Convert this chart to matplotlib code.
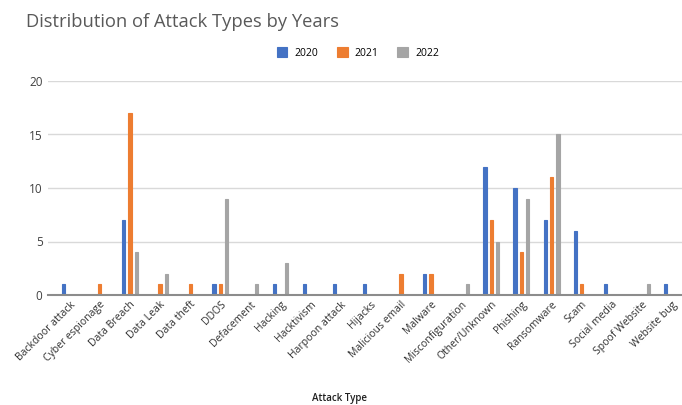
import numpy as np
import matplotlib
matplotlib.use('Agg')
from matplotlib import pyplot as plt

attack_types = ['Backdoor attack', 'Cyber espionage', 'Data Breach', 'Data Leak',
                'Data theft', 'DDOS', 'Defacement', 'Hacking', 'Hacktivism',
                'Harpoon attack', 'Hijacks', 'Malicious email', 'Malware',
                'Misconfiguration', 'Other/Unknown', 'Phishing', 'Ransomware',
                'Scam', 'Social media', 'Spoof Website', 'Website bug']
years = ['2020', '2021', '2022']
counts_2020 = [1, 0, 7, 0, 0, 1, 0, 1, 1, 1, 1, 0, 2, 0, 12, 10, 7, 6, 1, 0, 1]
counts_2021 = [0, 1, 17, 1, 1, 1, 0, 0, 0, 0, 0, 2, 2, 0, 7, 4, 11, 1, 0, 0, 0]
counts_2022 = [0, 0, 4, 2, 0, 9, 1, 3, 0, 0, 0, 0, 0, 1, 5, 9, 15, 0, 0, 1, 0]
y_ticks = [0, 5, 10, 15, 20]

COLORS = ['#4472C4', '#ED7D31', '#A5A5A5']
FONT = ['Open Sans', 'DejaVu Sans']

plt.rcParams['font.family'] = FONT

fig = plt.figure(figsize=(6.82, 4.05), dpi=100)
ax = fig.add_axes([48 / 682, 110 / 405, 634 / 682, 214 / 405])

x = np.arange(len(attack_types))
step = 0.21
width = 0.11
for i, (label, vals) in enumerate(zip(years, [counts_2020, counts_2021, counts_2022])):
    ax.bar(x + (i - 1) * step, vals, width=width, color=COLORS[i],
           edgecolor=COLORS[i], linewidth=0.8, label=label, zorder=3)

ax.set_xlim(-0.72, 20.33)
ax.set_ylim(0, 20)
ax.set_yticks(y_ticks)
ax.set_yticklabels([str(v) for v in y_ticks], fontsize=8.5, color='#404040')
ax.set_xticks(x)
ax.set_xticklabels(attack_types, rotation=45, ha='right', rotation_mode='anchor',
                   fontsize=7.5, color='#303030')
ax.tick_params(axis='both', length=0, pad=4)
ax.tick_params(axis='x', pad=3)

ax.grid(axis='y', color='#D9D9D9', linewidth=1.0, zorder=0)
for side in ['top', 'right', 'left']:
    ax.spines[side].set_visible(False)
ax.spines['bottom'].set_color('#8C8C8C')
ax.spines['bottom'].set_linewidth(1.5)
ax.spines['bottom'].set_zorder(4)

fig.text(26 / 682, 1 - 22 / 405, 'Distribution of Attack Types by Years',
         fontsize=13.2, color='#595959', va='center', ha='left')

ax.legend(loc='center', bbox_to_anchor=(358 / 682, 1 - 53 / 405),
          bbox_transform=fig.transFigure, ncol=3, frameon=False, fontsize=7.5,
          handlelength=1.0, handleheight=1.0, handletextpad=0.7, columnspacing=1.8)

fig.text(340 / 682, 1 - 398 / 405, 'Attack Type', fontsize=7, color='#202020',
         ha='center', va='center', fontweight='semibold')

fig.savefig('out.png', dpi=100)
